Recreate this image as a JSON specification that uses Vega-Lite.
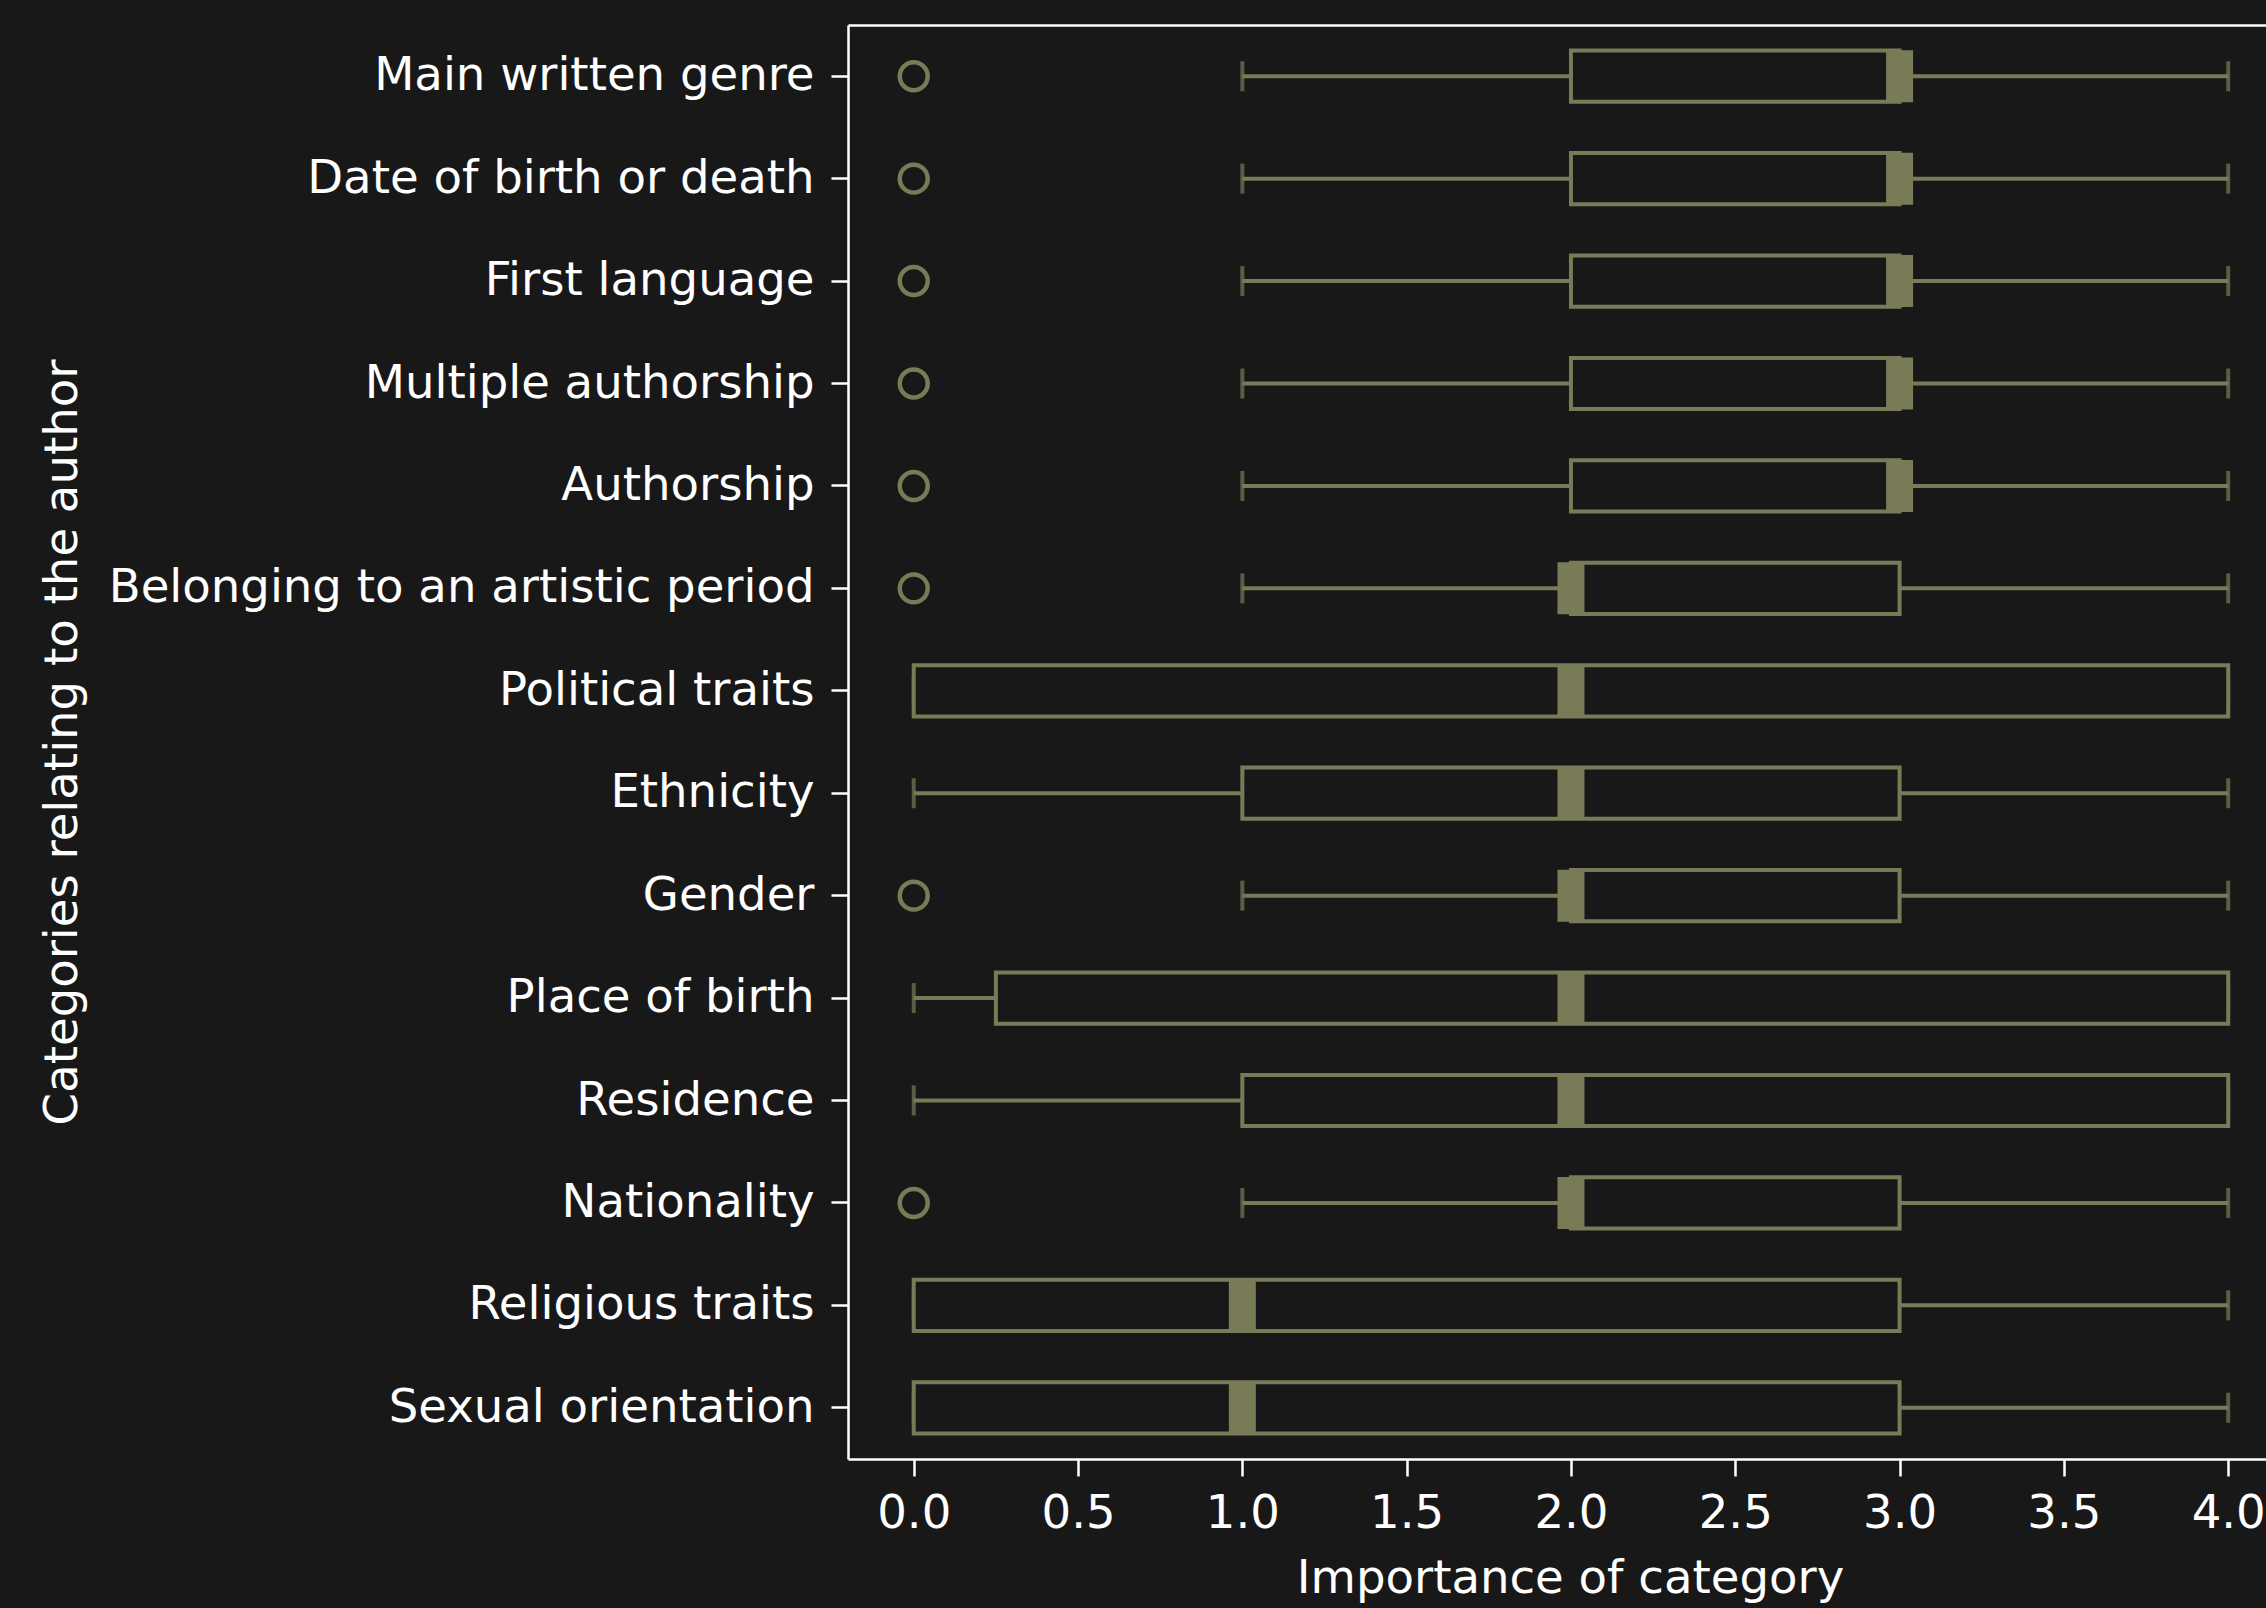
{
  "$schema": "https://vega.github.io/schema/vega-lite/v6.json",
  "autosize": {"type": "none"},
  "padding": {"left": 848, "top": 25, "right": 0, "bottom": 149},
  "width": 1418,
  "height": 1434,
  "background": "#181818",
  "config": {
    "font": "DejaVu Sans",
    "view": {"stroke": null, "fill": "#181818"},
    "axis": {
      "domainColor": "#ffffff",
      "domainWidth": 2.5,
      "tickColor": "#ffffff",
      "tickWidth": 2.5,
      "tickSize": 17,
      "labelColor": "#ffffff",
      "labelFont": "DejaVu Sans",
      "labelFontSize": 46.6,
      "titleColor": "#ffffff",
      "titleFont": "DejaVu Sans",
      "titleFontSize": 46.6,
      "titleFontWeight": "normal",
      "grid": false
    }
  },
  "data": {
    "values": [
      {"category": "Main written genre", "wlo": 1, "q1": 2, "median": 3, "q3": 3, "whi": 4, "outlier": 0},
      {"category": "Date of birth or death", "wlo": 1, "q1": 2, "median": 3, "q3": 3, "whi": 4, "outlier": 0},
      {"category": "First language", "wlo": 1, "q1": 2, "median": 3, "q3": 3, "whi": 4, "outlier": 0},
      {"category": "Multiple authorship", "wlo": 1, "q1": 2, "median": 3, "q3": 3, "whi": 4, "outlier": 0},
      {"category": "Authorship", "wlo": 1, "q1": 2, "median": 3, "q3": 3, "whi": 4, "outlier": 0},
      {"category": "Belonging to an artistic period", "wlo": 1, "q1": 2, "median": 2, "q3": 3, "whi": 4, "outlier": 0},
      {"category": "Political traits", "wlo": 0, "q1": 0, "median": 2, "q3": 4, "whi": 4, "outlier": null},
      {"category": "Ethnicity", "wlo": 0, "q1": 1, "median": 2, "q3": 3, "whi": 4, "outlier": null},
      {"category": "Gender", "wlo": 1, "q1": 2, "median": 2, "q3": 3, "whi": 4, "outlier": 0},
      {"category": "Place of birth", "wlo": 0, "q1": 0.25, "median": 2, "q3": 4, "whi": 4, "outlier": null},
      {"category": "Residence", "wlo": 0, "q1": 1, "median": 2, "q3": 4, "whi": 4, "outlier": null},
      {"category": "Nationality", "wlo": 1, "q1": 2, "median": 2, "q3": 3, "whi": 4, "outlier": 0},
      {"category": "Religious traits", "wlo": 0, "q1": 0, "median": 1, "q3": 3, "whi": 4, "outlier": null},
      {"category": "Sexual orientation", "wlo": 0, "q1": 0, "median": 1, "q3": 3, "whi": 4, "outlier": null}
    ]
  },
  "encoding": {
    "y": {
      "field": "category",
      "type": "nominal",
      "sort": null,
      "scale": {"paddingInner": 0, "paddingOuter": 0},
      "axis": {
        "title": "Categories relating to the author",
        "labelLimit": 2000,
        "labelPadding": 17,
        "titleX": -762,
        "titleBaseline": "bottom"
      }
    }
  },
  "resolve": {"axis": {"x": "independent"}},
  "layer": [
    {
      "mark": {"type": "rule", "color": "#797b57", "strokeWidth": 4},
      "encoding": {
        "x": {
          "field": "wlo",
          "type": "quantitative",
          "scale": {"domain": [-0.2, 4.115], "nice": false, "zero": false},
          "axis": {
            "orient": "bottom",
            "title": "Importance of category",
            "values": [0, 0.5, 1, 1.5, 2, 2.5, 3, 3.5, 4],
            "format": ".1f",
            "labelPadding": 14,
            "titlePadding": 19,
            "titleX": 722,
            "labelFlush": false,
            "labelOverlap": false
          }
        },
        "x2": {"field": "q1"}
      }
    },
    {
      "mark": {"type": "rule", "color": "#797b57", "strokeWidth": 4},
      "encoding": {
        "x": {"field": "q3", "type": "quantitative", "axis": null},
        "x2": {"field": "whi"}
      }
    },
    {
      "mark": {"type": "tick", "color": "#797b57", "thickness": 4, "size": 30, "orient": "vertical"},
      "encoding": {
        "x": {"field": "wlo", "type": "quantitative", "axis": null}
      }
    },
    {
      "mark": {"type": "tick", "color": "#797b57", "thickness": 4, "size": 30, "orient": "vertical"},
      "encoding": {
        "x": {"field": "whi", "type": "quantitative", "axis": null}
      }
    },
    {
      "mark": {"type": "bar", "fill": "#181818", "stroke": "#797b57", "strokeWidth": 4, "height": {"band": 0.5}},
      "encoding": {
        "x": {
          "field": "q1",
          "type": "quantitative",
          "axis": {"orient": "top", "labels": false, "ticks": false, "title": null, "domain": true}
        },
        "x2": {"field": "q3"}
      }
    },
    {
      "mark": {"type": "tick", "color": "#797b57", "thickness": 27, "size": 52, "orient": "vertical", "opacity": 1},
      "encoding": {
        "x": {"field": "median", "type": "quantitative", "axis": null}
      }
    },
    {
      "mark": {"type": "point", "shape": "circle", "filled": false, "color": "#797b57", "strokeWidth": 4.5, "size": 780, "opacity": 1},
      "encoding": {
        "x": {"field": "outlier", "type": "quantitative", "axis": null}
      }
    }
  ]
}
